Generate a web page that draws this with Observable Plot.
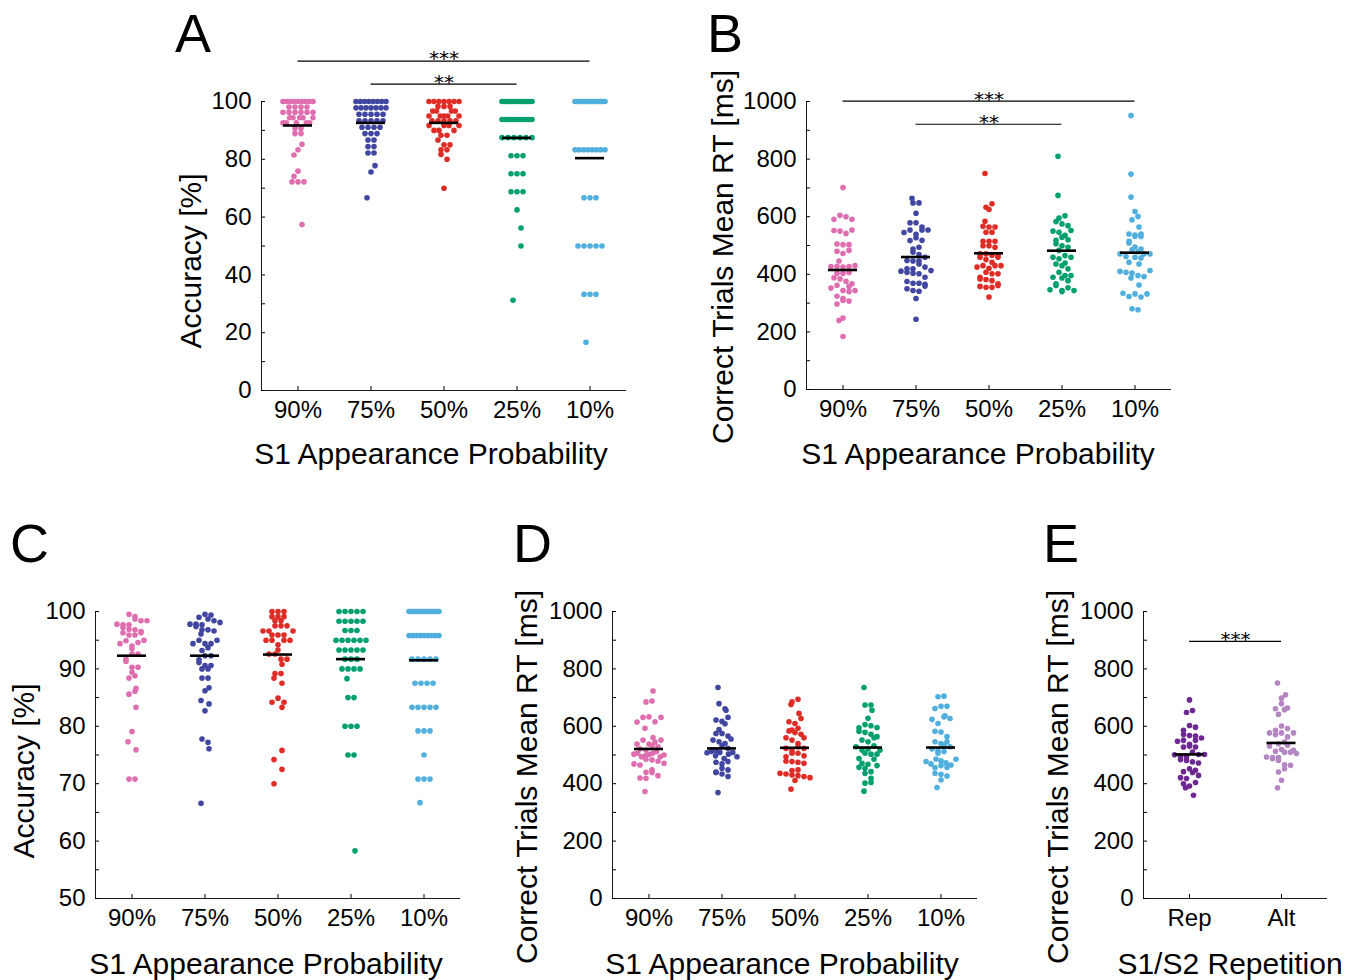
<!DOCTYPE html>
<html><head><meta charset="utf-8">
<script src="https://cdn.jsdelivr.net/npm/d3@7"></script>
<script src="https://cdn.jsdelivr.net/npm/@observablehq/plot@0.6"></script>
<style>
body{margin:0;background:#fff;}
#fig{position:relative;width:1357px;height:980px;overflow:hidden;background:#fff;}
#fig svg{position:absolute;}
</style></head><body><div id="fig"></div>
<script>
const FONT = "'Liberation Sans', Arial, Helvetica, sans-serif";
const STAR_FONT = "'DejaVu Sans', sans-serif";

// ---------- categories & palettes ----------
const probCats = ["90%", "75%", "50%", "25%", "10%"];
const probColors = ["#DE6EAF", "#4146A0", "#DE2D26", "#00A06E", "#50AFDC"];
const repCats = ["Rep", "Alt"];
const repColors = ["#6E2891", "#B487C3"];

// ---------- tick values / labels ----------
const accTicksA = [0, 10, 20, 30, 40, 50, 60, 70, 80, 90, 100];
const accLabelsA = [0, 20, 40, 60, 80, 100];
const accTicksC = [50, 55, 60, 65, 70, 75, 80, 85, 90, 95, 100];
const accLabelsC = [50, 60, 70, 80, 90, 100];
const rtTicks = [0, 100, 200, 300, 400, 500, 600, 700, 800, 900, 1000];
const rtLabels = [0, 200, 400, 600, 800, 1000];

// ---------- Panel A: accuracy [%] ----------
const accA90 = [100,100,100,100,100,100,100,100,100,98.1,98.1,98.1,98.1,96.3,96.3,96.3,96.3,96.3,96.3,94.4,94.4,94.4,94.4,94.4,92.6,92.6,92.6,92.6,92.6,90.7,90.7,88.9,88.9,85.2,83.3,81.5,75.9,74.1,72.2,72.2,72.2,57.4];
const accA75 = [100,100,100,100,100,100,100,100,97.8,97.8,97.8,97.8,97.8,97.8,97.8,95.6,95.6,95.6,95.6,95.6,93.3,93.3,93.3,93.3,93.3,91.1,91.1,91.1,91.1,88.9,88.9,88.9,86.7,86.7,84.4,84.4,82.2,82.2,77.8,75.6,66.7];
const accA50 = [100,100,100,100,100,100,100,98.3,98.3,98.3,96.7,96.7,96.7,96.7,95,95,95,95,95,93.3,93.3,93.3,93.3,93.3,91.7,91.7,91.7,91.7,90,90,90,88.3,88.3,86.7,85,85,83.3,83.3,81.7,80,70];
const accA25 = [100,100,100,100,100,100,100,100,100,100,100,100,100,100,93.75,93.75,93.75,93.75,93.75,93.75,93.75,93.75,93.75,93.75,93.75,87.5,87.5,87.5,87.5,87.5,87.5,81.25,81.25,81.25,75,75,75,68.75,68.75,68.75,62.5,56.25,50,31.25];
const accA10 = [100,100,100,100,100,100,100,100,100,100,100,100,100,100,100,100,100,100,100,83.3,83.3,83.3,83.3,83.3,83.3,83.3,83.3,66.7,66.7,66.7,50,50,50,50,50,33.3,33.3,33.3,16.7];
const meansA = [91.7, 92.6, 92.6, 87.4, 80.4];
const sigA = [{from: "90%", to: "10%", y: 114, label: "***"}, {from: "75%", to: "25%", y: 106, label: "**"}];

// ---------- Panel B: correct trials mean RT [ms] ----------
const rtB90 = [701,605,600,591,591,554,552,550,542,505,503,503,483,480,472,446,430,427,427,428,425,404,404,406,388,384,376,367,362,358,352,344,344,340,324,316,309,307,297,248,240,184];
const rtB75 = [664,648,648,612,579,579,564,539,554,554,554,545,527,518,517,494,488,477,469,446,446,448,459,436,419,411,425,407,413,419,404,402,390,375,359,365,369,369,344,341,350,316,244];
const rtB50 = [750,645,633,625,584,564,546,546,567,564,515,515,515,499,499,494,471,471,466,451,459,459,466,430,425,430,430,442,407,402,402,421,390,384,382,378,367,361,355,355,358,321];
const rtB25 = [810,674,603,595,583,575,569,546,550,552,535,529,518,520,506,499,494,483,459,454,459,465,436,419,430,439,407,396,396,387,378,367,361,390,346,344,340,344,353];
const rtB10 = [951,748,668,618,601,589,564,540,540,536,532,531,515,509,495,488,485,478,471,471,471,462,457,459,436,442,407,404,410,413,396,392,387,363,332,321,334,323,332,280,277];
const meansB = [415, 460, 473, 482, 475];
const sigB = [{from: "90%", to: "10%", y: 1001, label: "***"}, {from: "75%", to: "25%", y: 921, label: "**"}];

// ---------- Panel C: accuracy [%] ----------
const accC90 = [99.5,99.1,97.8,98.4,98.7,98.4,97.7,97.7,96.9,96.8,97.2,96.3,95.9,95.9,96.5,96.3,95.0,94.6,94.4,94.9,94.0,93.5,92.6,92.6,91.3,91.7,90.3,90.3,89.4,88.8,88.4,86.1,86.6,85.6,83.3,79.1,77.3,75.9,70.8,70.8];
const accC75 = [99.5,99.4,98.7,98.4,97.8,99.0,98.1,97.7,97.8,97.4,96.8,96.8,96.6,96.1,95.0,95.0,94.4,94.4,94.4,93.7,93.2,92.3,92.3,91.6,91.1,90.6,90.0,90.0,90.6,88.4,88.4,86.2,86.7,84.5,83.9,82.7,77.8,77.2,76.1,66.6];
const accC50 = [100,100,100,99.1,99.1,99.1,98.4,98.4,97.5,97.5,97.5,96.6,96.6,96.6,95.9,95.9,95.9,95.0,95.0,95.0,95.0,94.2,93.3,92.6,92.6,91.7,91.7,90.8,89.2,89.2,88.4,87.5,84.2,84.2,84.9,83.3,75.8,74.2,72.5,70.0];
const accC25 = [100,100,100,100,100,98.3,98.3,98.3,98.3,98.3,96.7,96.7,96.7,95,95,95,95,95,95,93.3,93.3,93.3,93.3,93.3,91.7,91.7,91.7,90,90,90,90,88.3,85,85,80,80,80,75,75,58.3];
const accC10 = [100,100,100,100,100,100,100,100,100,100,100,100,100,100,100,100,100,100,95.8,95.8,95.8,95.8,95.8,95.8,95.8,95.8,95.8,91.7,91.7,91.7,91.7,91.7,87.5,87.5,87.5,87.5,83.3,83.3,83.3,83.3,83.3,79.2,79.2,79.2,75,70.8,70.8,70.8,66.7];
const meansC = [92.3, 92.3, 92.5, 91.7, 91.5];

// ---------- Panel D: correct trials mean RT [ms] ----------
const rtD90 = [723,685,688,633,631,631,615,616,593,552,561,552,545,538,538,532,529,521,517,512,500,506,506,502,503,497,494,494,483,485,478,465,469,448,471,440,439,428,419,420,373];
const rtD75 = [735,679,656,661,631,622,617,609,589,566,575,575,552,556,546,532,540,523,515,509,509,508,512,503,494,497,488,475,477,469,448,454,425,434,441,439,369];
const rtD50 = [694,685,676,645,627,616,610,578,587,584,593,572,560,560,552,540,529,523,523,514,506,506,497,494,475,477,478,471,448,446,434,430,421,428,436,425,381,411];
const rtD25 = [735,674,674,656,628,606,595,602,596,583,572,579,564,560,546,552,532,529,517,521,506,503,503,517,485,488,471,463,468,457,454,436,442,402,419,404,374];
const rtD10 = [703,705,662,670,670,633,637,624,610,627,583,580,564,546,546,540,535,529,515,512,521,506,486,485,480,477,473,469,465,463,457,456,436,433,427,413,387];
const meansD = [521, 523, 525, 526, 526];

// ---------- Panel E: repetition vs alternation RT [ms] ----------
const rtERep = [692,655,648,586,597,603,571,568,566,559,551,551,548,528,537,531,528,510,502,502,501,495,493,481,484,472,476,452,439,447,442,429,421,418,392,404,400,386,360];
const rtEAlt = [751,710,698,664,679,658,661,642,601,592,586,577,577,577,571,563,534,545,539,531,516,513,505,510,519,510,491,493,491,481,487,464,466,452,441,412,386];
const meansE = [502, 542];
const sigE = [{from: "Rep", to: "Alt", y: 896, label: "***"}];

// ---------- layout helpers ----------
function gcd(a, b) { return b ? gcd(b, a % b) : a; }
// plotSpread-like horizontal layout (pixels) computed from the values
function spread(vals, pxPerUnit) {
  const binPx = 7, gap = 6, maxW = 30;
  const order = vals.map((v, j) => j).sort((a, b) => vals[a] - vals[b]);
  const bins = new Map();
  order.forEach(j => {
    const b = Math.floor(vals[j] * pxPerUnit / binPx);
    if (!bins.has(b)) bins.set(b, []);
    bins.get(b).push(j);
  });
  const off = vals.map(() => 0);
  for (const [b, mem] of bins) {
    const k = mem.length;
    if (k === 1) { off[mem[0]] = ((b % 3) - 1) * 4; continue; }
    const w = Math.min(maxW, (k - 1) * gap);
    const s = [3, 5, 7, 2, 1].find(q => gcd(q, k) === 1);
    mem.forEach((j, r) => { const p = (r * s + b) % k; off[j] = -w / 2 + w * p / (k - 1); });
  }
  return off;
}

const fig = d3.select("#fig");

function panel({axisX, topPx, plotH, step, cats, colors, series, means, yDomain, yTicks, yLabels, sig = []}) {
  const n = cats.length;
  const mt = 75, mb = 45, ml = 70, mr = 14;
  const pxPerUnit = plotH / (yDomain[1] - yDomain[0]);
  const xDomain = [-0.5, n - 0.5];
  const rows = [];
  series.forEach((vals, i) => {
    const offs = spread(vals, pxPerUnit);
    vals.forEach((v, j) => rows.push({i, cat: cats[i], v, off: offs[j] / step}));
  });
  const meanRows = means.map((m, i) => ({i, m}));
  const sigRows = sig.map(s => ({...s, a: cats.indexOf(s.from), b: cats.indexOf(s.to)}));
  const half = 14.5 / step;
  const svg = Plot.plot({
    width: ml + n * step + mr,
    height: mt + plotH + mb,
    marginLeft: ml, marginRight: mr, marginTop: mt, marginBottom: mb,
    x: {domain: xDomain, axis: null},
    y: {domain: yDomain, axis: null},
    color: {domain: cats, range: colors},
    style: {fontFamily: FONT, background: "transparent", color: "#000", overflow: "visible"},
    marks: [
      Plot.ruleY([yDomain[0]], {stroke: "#1a1a1a", strokeWidth: 1}),
      Plot.ruleX([xDomain[0]], {y1: yDomain[0], y2: yDomain[1], stroke: "#1a1a1a", strokeWidth: 1}),
      Plot.axisY(yTicks, {tickSize: -4, tickPadding: 14, fontSize: 24, label: null,
        tickFormat: d => yLabels.includes(d) ? String(d) : ""}),
      Plot.axisX(cats.map((c, i) => i), {tickSize: -4, tickPadding: 14, fontSize: 24, label: null,
        tickFormat: i => cats[i]}),
      Plot.dot(rows, {x: d => d.i + d.off, y: "v", r: 2.8, fill: "cat"}),
      Plot.ruleY(meanRows, {y: "m", x1: d => d.i - half, x2: d => d.i + half, stroke: "#000", strokeWidth: 2.6}),
      Plot.ruleY(sigRows, {y: "y", x1: "a", x2: "b", stroke: "#000", strokeWidth: 1.2}),
      Plot.text(sigRows, {x: d => (d.a + d.b) / 2, y: "y", text: "label", fontSize: 20, fontFamily: STAR_FONT,
        lineAnchor: "middle", dy: -2, fill: "#000"})
    ]
  });
  svg.style.left = (axisX - ml) + "px";
  svg.style.top = (topPx - mt) + "px";
  fig.node().appendChild(svg);
}

panel({axisX: 261, topPx: 101, plotH: 289, step: 73, cats: probCats, colors: probColors,
  series: [accA90, accA75, accA50, accA25, accA10], means: meansA, yDomain: [0, 100],
  yTicks: accTicksA, yLabels: accLabelsA, sig: sigA});
panel({axisX: 806, topPx: 101, plotH: 288, step: 73, cats: probCats, colors: probColors,
  series: [rtB90, rtB75, rtB50, rtB25, rtB10], means: meansB, yDomain: [0, 1000],
  yTicks: rtTicks, yLabels: rtLabels, sig: sigB});
panel({axisX: 95, topPx: 611, plotH: 287, step: 73, cats: probCats, colors: probColors,
  series: [accC90, accC75, accC50, accC25, accC10], means: meansC, yDomain: [50, 100],
  yTicks: accTicksC, yLabels: accLabelsC});
panel({axisX: 612, topPx: 611, plotH: 287, step: 73, cats: probCats, colors: probColors,
  series: [rtD90, rtD75, rtD50, rtD25, rtD10], means: meansD, yDomain: [0, 1000],
  yTicks: rtTicks, yLabels: rtLabels});
panel({axisX: 1143, topPx: 611, plotH: 287, step: 92, cats: repCats, colors: repColors,
  series: [rtERep, rtEAlt], means: meansE, yDomain: [0, 1000],
  yTicks: rtTicks, yLabels: rtLabels, sig: sigE});

// ---------- titles, axis labels, panel letters ----------
const overlay = fig.append("svg").attr("width", 1357).attr("height", 980)
  .style("left", "0px").style("top", "0px").style("pointer-events", "none");
function label(t, x, y, size, rotate, anchor = "middle") {
  const el = overlay.append("text").attr("font-family", FONT).attr("font-size", size)
    .attr("text-anchor", anchor).attr("fill", "#000").text(t);
  if (rotate) el.attr("transform", `translate(${x},${y}) rotate(-90)`);
  else el.attr("x", x).attr("y", y);
}
label("A", 175, 52, 54, false, "start");
label("B", 707, 52, 54, false, "start");
label("C", 10, 562, 54, false, "start");
label("D", 513, 562, 54, false, "start");
label("E", 1043, 562, 54, false, "start");
label("S1 Appearance Probability", 431, 464, 30);
label("S1 Appearance Probability", 978, 464, 30);
label("S1 Appearance Probability", 266, 974, 30);
label("S1 Appearance Probability", 782, 974, 30);
label("S1/S2 Repetition", 1230, 974, 30);
label("Accuracy [%]", 201, 261, 30, true);
label("Correct Trials Mean RT [ms]", 733, 257, 30, true);
label("Accuracy [%]", 34, 771, 30, true);
label("Correct Trials Mean RT [ms]", 537, 777, 30, true);
label("Correct Trials Mean RT [ms]", 1068, 777, 30, true);
</script></body></html>
